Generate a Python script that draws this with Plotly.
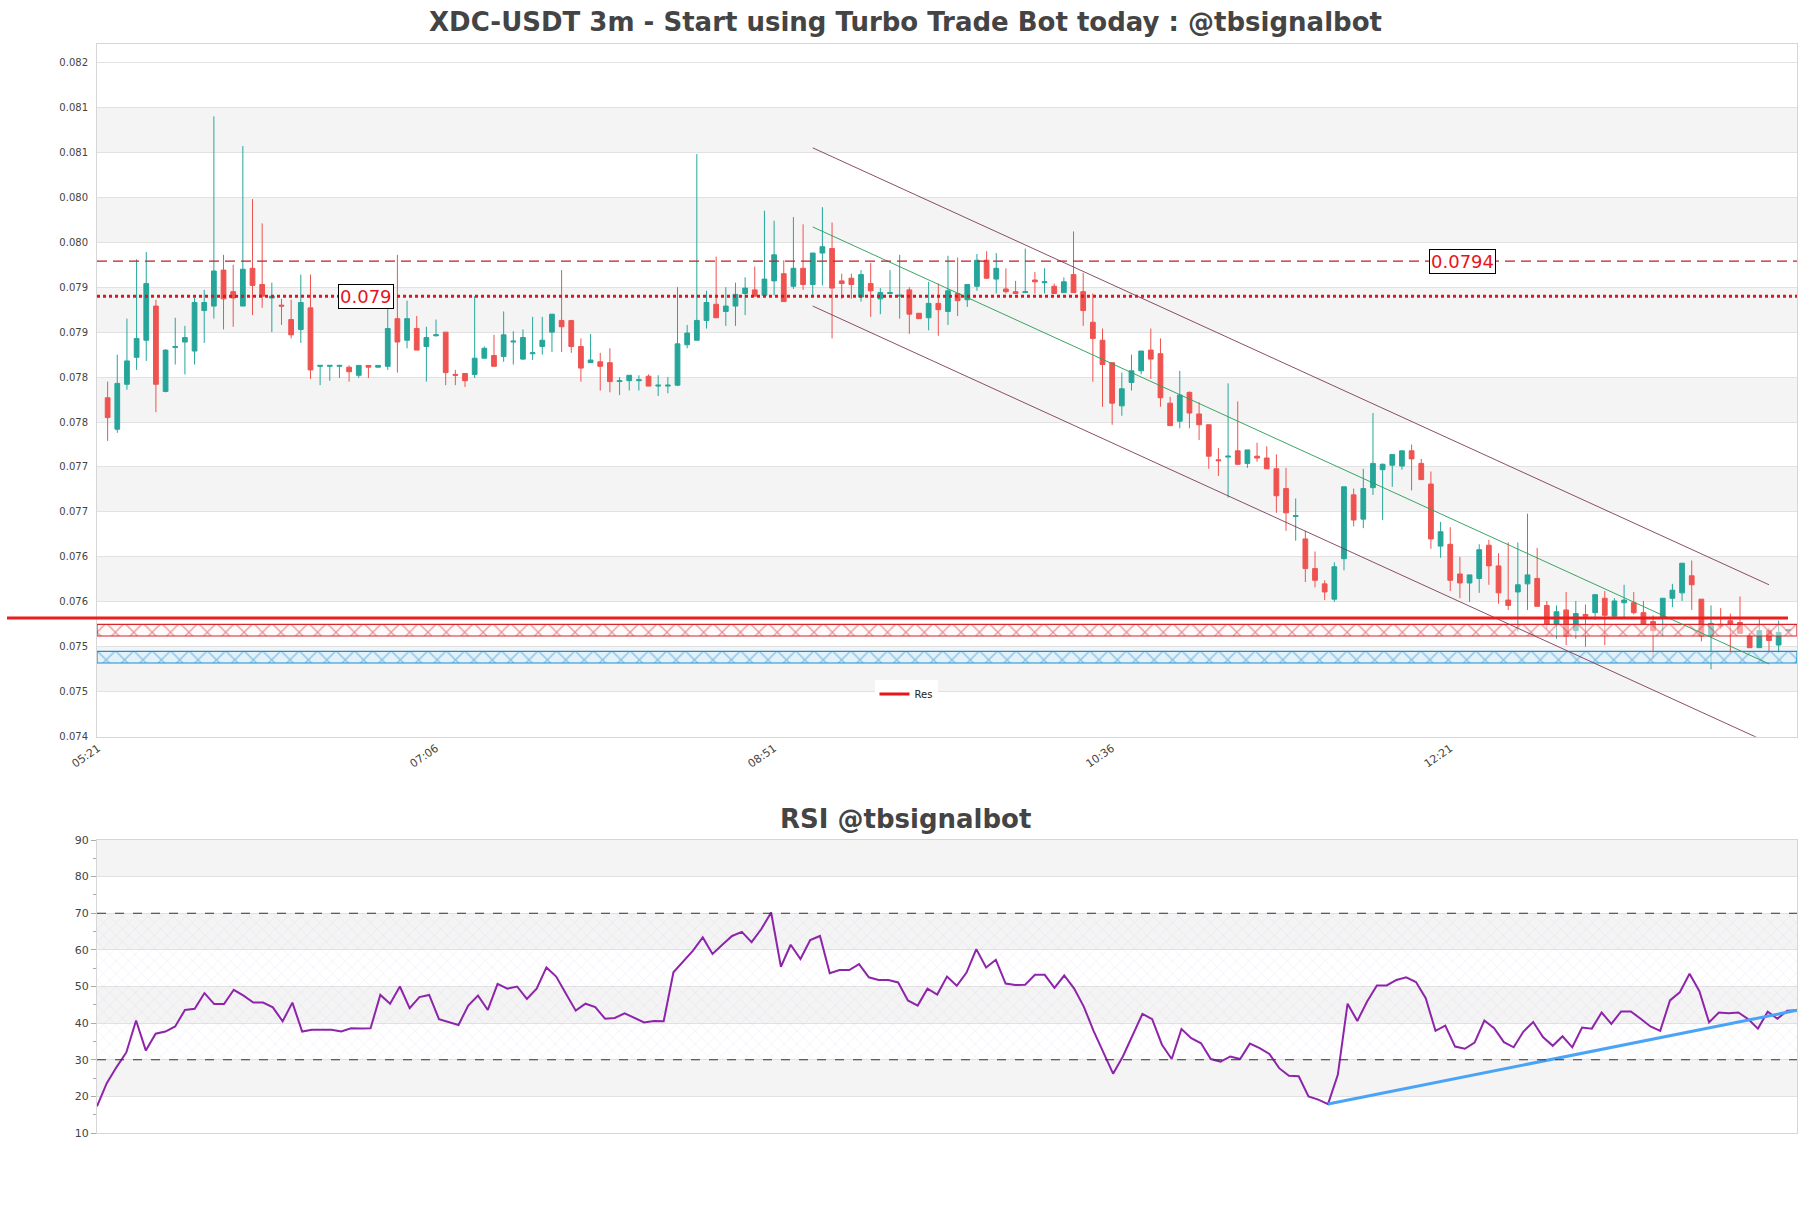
import plotly.graph_objects as go

# ---------------- data ----------------
OPEN = [0.07777, 0.07742, 0.07792, 0.07822, 0.07841, 0.07879, 0.07784, 0.07833, 0.07839, 0.07829,
        0.07874, 0.07879, 0.07919, 0.07895, 0.07879, 0.07921, 0.07903, 0.07888, 0.07880, 0.07864,
        0.07853, 0.07877, 0.07812, 0.07812, 0.07812, 0.07811, 0.07802, 0.07813, 0.07811, 0.07812,
        0.07865, 0.07841, 0.07854, 0.07834, 0.07846, 0.07850, 0.07803, 0.07804, 0.07803, 0.07821,
        0.07824, 0.07823, 0.07839, 0.07820, 0.07826, 0.07834, 0.07850, 0.07863, 0.07863, 0.07834,
        0.07816, 0.07817, 0.07816, 0.07795, 0.07796, 0.07796, 0.07801, 0.07790, 0.07790, 0.07791,
        0.07836, 0.07841, 0.07863, 0.07881, 0.07873, 0.07879, 0.07893, 0.07897, 0.07891, 0.07907,
        0.07915, 0.07901, 0.07921, 0.07903, 0.07938, 0.07943, 0.07907, 0.07910, 0.07889, 0.07904,
        0.07887, 0.07893, 0.07890, 0.07897, 0.07871, 0.07866, 0.07882, 0.07873, 0.07893, 0.07886,
        0.07901, 0.07930, 0.07909, 0.07898, 0.07895, 0.07894, 0.07908, 0.07905, 0.07901, 0.07894,
        0.07914, 0.07895, 0.07861, 0.07841, 0.07816, 0.07768, 0.07794, 0.07807, 0.07830, 0.07826,
        0.07771, 0.07751, 0.07783, 0.07759, 0.07747, 0.07708, 0.07711, 0.07718, 0.07704, 0.07712,
        0.07710, 0.07698, 0.07676, 0.07645, 0.07620, 0.07587, 0.07570, 0.07553, 0.07598, 0.07669,
        0.07642, 0.07677, 0.07697, 0.07702, 0.07701, 0.07718, 0.07704, 0.07681, 0.07612, 0.07614,
        0.07581, 0.07571, 0.07576, 0.07613, 0.07590, 0.07552, 0.07561, 0.07570, 0.07576, 0.07546,
        0.07525, 0.07541, 0.07518, 0.07536, 0.07538, 0.07554, 0.07534, 0.07549, 0.07549, 0.07538,
        0.07528, 0.07533, 0.07554, 0.07560, 0.07579, 0.07553, 0.07512, 0.07525, 0.07529, 0.07527,
        0.07512, 0.07499, 0.07518, 0.07502, 0.07518]
HIGH = [0.07795, 0.07825, 0.07865, 0.07931, 0.07939, 0.07886, 0.07831, 0.07866, 0.07857, 0.07888,
        0.07897, 0.08090, 0.07936, 0.07925, 0.08057, 0.07998, 0.07971, 0.07905, 0.07887, 0.07886,
        0.07914, 0.07914, 0.07813, 0.07813, 0.07813, 0.07813, 0.07813, 0.07813, 0.07813, 0.07882,
        0.07936, 0.07885, 0.07868, 0.07856, 0.07864, 0.07850, 0.07808, 0.07804, 0.07890, 0.07834,
        0.07847, 0.07873, 0.07851, 0.07853, 0.07867, 0.07867, 0.07870, 0.07919, 0.07863, 0.07843,
        0.07848, 0.07827, 0.07832, 0.07800, 0.07802, 0.07802, 0.07803, 0.07802, 0.07800, 0.07900,
        0.07858, 0.08048, 0.07896, 0.07934, 0.07900, 0.07905, 0.07911, 0.07923, 0.07985, 0.07974,
        0.07930, 0.07978, 0.07970, 0.07938, 0.07989, 0.07972, 0.07915, 0.07915, 0.07919, 0.07927,
        0.07899, 0.07919, 0.07936, 0.07900, 0.07871, 0.07906, 0.07904, 0.07935, 0.07933, 0.07903,
        0.07937, 0.07940, 0.07938, 0.07921, 0.07907, 0.07943, 0.07917, 0.07921, 0.07904, 0.07911,
        0.07962, 0.07916, 0.07893, 0.07854, 0.07816, 0.07805, 0.07825, 0.07829, 0.07854, 0.07843,
        0.07778, 0.07807, 0.07784, 0.07772, 0.07747, 0.07721, 0.07793, 0.07773, 0.07719, 0.07727,
        0.07723, 0.07714, 0.07699, 0.07665, 0.07629, 0.07606, 0.07574, 0.07594, 0.07678, 0.07676,
        0.07698, 0.07760, 0.07704, 0.07714, 0.07718, 0.07725, 0.07709, 0.07695, 0.07639, 0.07633,
        0.07600, 0.07580, 0.07614, 0.07619, 0.07604, 0.07616, 0.07616, 0.07648, 0.07610, 0.07551,
        0.07546, 0.07561, 0.07551, 0.07547, 0.07558, 0.07562, 0.07554, 0.07569, 0.07561, 0.07551,
        0.07535, 0.07554, 0.07570, 0.07593, 0.07596, 0.07553, 0.07546, 0.07543, 0.07537, 0.07556,
        0.07515, 0.07532, 0.07521, 0.07529, 0.07520]
LOW = [0.07729, 0.07738, 0.07786, 0.07808, 0.07818, 0.07761, 0.07783, 0.07814, 0.07803, 0.07814,
       0.07838, 0.07865, 0.07853, 0.07856, 0.07879, 0.07869, 0.07877, 0.07850, 0.07858, 0.07843,
       0.07838, 0.07798, 0.07791, 0.07796, 0.07799, 0.07795, 0.07799, 0.07799, 0.07811, 0.07808,
       0.07805, 0.07832, 0.07830, 0.07795, 0.07845, 0.07791, 0.07791, 0.07789, 0.07799, 0.07821,
       0.07812, 0.07817, 0.07814, 0.07819, 0.07819, 0.07825, 0.07828, 0.07828, 0.07827, 0.07795,
       0.07816, 0.07785, 0.07783, 0.07780, 0.07785, 0.07785, 0.07790, 0.07779, 0.07782, 0.07790,
       0.07832, 0.07841, 0.07854, 0.07866, 0.07857, 0.07857, 0.07869, 0.07890, 0.07891, 0.07891,
       0.07884, 0.07898, 0.07897, 0.07891, 0.07902, 0.07843, 0.07887, 0.07887, 0.07884, 0.07867,
       0.07870, 0.07893, 0.07865, 0.07848, 0.07865, 0.07852, 0.07846, 0.07858, 0.07868, 0.07878,
       0.07896, 0.07909, 0.07893, 0.07893, 0.07893, 0.07894, 0.07893, 0.07893, 0.07893, 0.07894,
       0.07894, 0.07857, 0.07795, 0.07767, 0.07747, 0.07757, 0.07785, 0.07803, 0.07798, 0.07767,
       0.07746, 0.07743, 0.07743, 0.07730, 0.07698, 0.07690, 0.07666, 0.07702, 0.07699, 0.07706,
       0.07698, 0.07649, 0.07629, 0.07618, 0.07572, 0.07566, 0.07552, 0.07550, 0.07585, 0.07634,
       0.07632, 0.07669, 0.07641, 0.07678, 0.07697, 0.07674, 0.07686, 0.07609, 0.07599, 0.07562,
       0.07554, 0.07550, 0.07560, 0.07569, 0.07548, 0.07541, 0.07517, 0.07541, 0.07545, 0.07520,
       0.07509, 0.07502, 0.07509, 0.07500, 0.07530, 0.07502, 0.07533, 0.07532, 0.07536, 0.07524,
       0.07487, 0.07513, 0.07544, 0.07551, 0.07541, 0.07506, 0.07475, 0.07520, 0.07493, 0.07515,
       0.07499, 0.07499, 0.07493, 0.07493, 0.07517]
CLOSE = [0.07755, 0.07793, 0.07818, 0.07843, 0.07904, 0.07792, 0.07830, 0.07834, 0.07844, 0.07883,
         0.07883, 0.07918, 0.07887, 0.07888, 0.07920, 0.07902, 0.07890, 0.07890, 0.07879, 0.07847,
         0.07883, 0.07808, 0.07813, 0.07813, 0.07813, 0.07806, 0.07813, 0.07811, 0.07813, 0.07854,
         0.07839, 0.07865, 0.07830, 0.07844, 0.07847, 0.07805, 0.07802, 0.07796, 0.07821, 0.07832,
         0.07812, 0.07847, 0.07840, 0.07844, 0.07827, 0.07841, 0.07870, 0.07856, 0.07834, 0.07810,
         0.07819, 0.07812, 0.07795, 0.07796, 0.07802, 0.07797, 0.07790, 0.07791, 0.07791, 0.07837,
         0.07849, 0.07863, 0.07883, 0.07866, 0.07879, 0.07892, 0.07899, 0.07890, 0.07909, 0.07936,
         0.07884, 0.07921, 0.07903, 0.07938, 0.07945, 0.07899, 0.07904, 0.07903, 0.07914, 0.07896,
         0.07894, 0.07894, 0.07891, 0.07870, 0.07865, 0.07882, 0.07875, 0.07896, 0.07885, 0.07903,
         0.07930, 0.07910, 0.07921, 0.07895, 0.07893, 0.07895, 0.07906, 0.07906, 0.07893, 0.07906,
         0.07894, 0.07874, 0.07843, 0.07814, 0.07771, 0.07787, 0.07807, 0.07829, 0.07820, 0.07777,
         0.07746, 0.07780, 0.07760, 0.07747, 0.07712, 0.07707, 0.07712, 0.07703, 0.07719, 0.07710,
         0.07698, 0.07668, 0.07649, 0.07646, 0.07587, 0.07574, 0.07561, 0.07589, 0.07678, 0.07641,
         0.07676, 0.07704, 0.07703, 0.07714, 0.07718, 0.07709, 0.07686, 0.07620, 0.07628, 0.07574,
         0.07571, 0.07580, 0.07608, 0.07590, 0.07560, 0.07546, 0.07569, 0.07580, 0.07545, 0.07525,
         0.07539, 0.07512, 0.07537, 0.07534, 0.07558, 0.07535, 0.07551, 0.07552, 0.07538, 0.07525,
         0.07518, 0.07554, 0.07563, 0.07593, 0.07569, 0.07512, 0.07526, 0.07523, 0.07525, 0.07515,
         0.07499, 0.07518, 0.07507, 0.07516, 0.07519]
RSI = [17.3, 23.6, 28.0, 32.0, 40.7, 32.5, 37.1, 37.7, 39.1, 43.6,
       43.9, 48.2, 45.2, 45.2, 49.1, 47.5, 45.6, 45.6, 44.3, 40.5,
       45.6, 37.7, 38.2, 38.2, 38.2, 37.7, 38.6, 38.5, 38.6, 47.7,
       45.3, 50.0, 44.1, 47.1, 47.7, 41.1, 40.3, 39.5, 44.8, 47.5,
       43.6, 50.7, 49.4, 50.0, 46.6, 49.4, 55.2, 52.7, 48.0, 43.4,
       45.3, 44.4, 41.2, 41.4, 42.7, 41.5, 40.2, 40.6, 40.5, 53.9,
       56.8, 59.8, 63.4, 58.9, 61.4, 63.8, 64.9, 62.1, 65.7, 70.2,
       55.4, 61.4, 57.5, 62.7, 63.8, 53.6, 54.5, 54.5, 56.1, 52.5,
       51.8, 51.8, 51.1, 46.2, 44.8, 49.4, 47.8, 52.7, 50.2, 53.8,
       60.2, 55.2, 57.3, 50.8, 50.4, 50.5, 53.2, 53.2, 49.6, 53.0,
       49.5, 44.5, 37.9, 32.2, 26.2, 30.9, 36.6, 42.5, 41.1, 34.1,
       30.2, 38.4, 35.9, 34.5, 30.2, 29.5, 30.9, 30.2, 34.4, 33.2,
       31.6, 27.7, 25.6, 25.5, 20.0, 19.1, 17.9, 25.9, 45.3, 40.6,
       45.9, 50.3, 50.3, 51.8, 52.5, 51.2, 46.8, 37.9, 39.3, 33.6,
       33.0, 34.7, 40.7, 38.6, 34.8, 33.4, 37.7, 40.3, 36.2, 33.8,
       36.4, 33.4, 38.8, 38.5, 42.9, 39.8, 43.2, 43.2, 41.2, 39.1,
       37.9, 46.2, 48.4, 53.5, 48.8, 40.2, 42.9, 42.7, 42.9, 41.1,
       38.5, 43.1, 41.2, 43.4, 43.5]

X_TICK_POS = [-1, 34, 69, 104, 139]
X_TICK_TEXT = ["05:21", "07:06", "08:51", "10:36", "12:21"]
PRICE_TICKS = [0.0740, 0.0745, 0.0750, 0.0755, 0.0760, 0.0765, 0.0770, 0.0775,
               0.0780, 0.0785, 0.0790, 0.0795, 0.0800, 0.0805, 0.0810, 0.0815]
PRICE_TICK_TEXT = ["0.074", "0.075", "0.075", "0.076", "0.076", "0.077", "0.077", "0.078",
                   "0.078", "0.079", "0.079", "0.080", "0.080", "0.081", "0.081", "0.082"]
RSI_TICKS = [10, 20, 30, 40, 50, 60, 70, 80, 90]

RES_LEVEL = 0.07532
DASHED_LEVEL = 0.07929
DASHED_LABEL = "0.0794"
DOTTED_LEVEL = 0.07890
DOTTED_LABEL = "0.079"
RED_ZONE = [0.07512, 0.07525]
BLUE_ZONE = [0.07482, 0.07495]
CHANNEL_X = [73, 172]
CHANNEL_UPPER = [0.08055, 0.07569]
CHANNEL_MID = [0.07967, 0.07481]
CHANNEL_LOWER = [0.07879, 0.07393]
RSI_TREND_X = [126, 174]

# ---------------- layout constants ----------------
W, H = 1811, 1208
ML, MR, MT, MB = 97, 14, 44, 75
PLOT_H = H - MT - MB
def py(y_px):
    return (H - MB - y_px) / PLOT_H

PRICE_DOM = [py(736.7), 1.0]
RSI_DOM = [0.0, py(840)]
X_RANGE = [-1.1, 174.9]
N = len(OPEN)
XS = list(range(N))
FONT = "DejaVu Sans"
TXT = "#444444"

fig = go.Figure()

# price zones (hatched)
def zone(lo, hi, color, bg):
    return go.Scatter(
        x=[X_RANGE[0], X_RANGE[1], X_RANGE[1], X_RANGE[0], X_RANGE[0]],
        y=[lo, lo, hi, hi, lo], mode="lines", fill="toself",
        fillcolor=bg, line=dict(color=color, width=1.2),
        fillpattern=dict(shape="x", fgcolor=color, bgcolor=bg, size=13,
                         solidity=0.18, fillmode="overlay"),
        hoverinfo="skip", showlegend=False, xaxis="x", yaxis="y")

fig.add_trace(zone(RED_ZONE[0], RED_ZONE[1], "#d8232a", "rgba(255,245,245,0.5)"))
fig.add_trace(zone(BLUE_ZONE[0], BLUE_ZONE[1], "#1b8fd2", "rgba(215,238,252,0.6)"))

fig.add_trace(go.Candlestick(
    x=XS, open=OPEN, high=HIGH, low=LOW, close=CLOSE,
    increasing=dict(line=dict(color="#26a69a", width=1), fillcolor="#26a69a"),
    decreasing=dict(line=dict(color="#ef5350", width=1), fillcolor="#ef5350"),
    whiskerwidth=0, showlegend=False, xaxis="x", yaxis="y"))

# channel lines
for ys, col in [(CHANNEL_UPPER, "rgba(125,60,85,0.9)"), (CHANNEL_LOWER, "rgba(125,60,85,0.9)"),
                (CHANNEL_MID, "rgba(46,160,90,0.95)")]:
    fig.add_trace(go.Scatter(x=CHANNEL_X, y=ys, mode="lines", line=dict(color=col, width=1),
                             hoverinfo="skip", showlegend=False, xaxis="x", yaxis="y"))

# legend entry for Res
fig.add_trace(go.Scatter(x=[None], y=[None], mode="lines", name="Res",
                         line=dict(color="#e8141b", width=3), xaxis="x", yaxis="y"))

# RSI hatch 30-70
fig.add_trace(go.Scatter(
    x=[0, N - 1, N - 1, 0, 0], y=[30, 30, 70, 70, 30], mode="lines", fill="toself",
    fillcolor="rgba(0,0,0,0)", line=dict(width=0),
    fillpattern=dict(shape="x", fgcolor="rgba(175,145,200,0.6)", bgcolor="rgba(0,0,0,0)",
                     size=9, solidity=0.08, fillmode="overlay"),
    hoverinfo="skip", showlegend=False, xaxis="x2", yaxis="y2"))

fig.add_trace(go.Scatter(x=XS, y=RSI, mode="lines", line=dict(color="#8e24aa", width=2),
                         showlegend=False, xaxis="x2", yaxis="y2"))
fig.add_trace(go.Scatter(x=RSI_TREND_X, y=[RSI[RSI_TREND_X[0]], RSI[RSI_TREND_X[1]]], mode="lines",
                         line=dict(color="#4aa3f5", width=3), showlegend=False,
                         xaxis="x2", yaxis="y2"))

shapes = []
# price bands
for i in range(len(PRICE_TICKS) - 1):
    lo, hi = PRICE_TICKS[i], PRICE_TICKS[i + 1]
    if i % 2 == 1:
        shapes.append(dict(type="rect", xref="x domain", yref="y", x0=0, x1=1, y0=lo, y1=hi,
                           fillcolor="#f4f4f4", line=dict(width=0), layer="below"))
# rsi bands
for lo in [20, 40, 60, 80]:
    shapes.append(dict(type="rect", xref="x2 domain", yref="y2", x0=0, x1=1, y0=lo, y1=lo + 10,
                       fillcolor="#f4f4f4", line=dict(width=0), layer="below"))
# levels
shapes.append(dict(type="line", xref="x domain", yref="y", x0=0, x1=1,
                   y0=DASHED_LEVEL, y1=DASHED_LEVEL,
                   line=dict(color="#bf1f25", width=1.3, dash="10px,6px")))
shapes.append(dict(type="line", xref="x domain", yref="y", x0=0, x1=1,
                   y0=DOTTED_LEVEL, y1=DOTTED_LEVEL,
                   line=dict(color="#e0141b", width=3, dash="dot")))
shapes.append(dict(type="line", xref="paper", yref="y", x0=(7 - ML) / (W - ML - MR),
                   x1=(1788 - ML) / (W - ML - MR), y0=RES_LEVEL, y1=RES_LEVEL,
                   line=dict(color="#ee1c1c", width=3)))
for lv in [30, 70]:
    shapes.append(dict(type="line", xref="x2 domain", yref="y2", x0=0, x1=1, y0=lv, y1=lv,
                       line=dict(color="#333333", width=1.2, dash="dash")))

annotations = [
    dict(text=DOTTED_LABEL, x=26.8, y=DOTTED_LEVEL, xref="x", yref="y", showarrow=False,
         font=dict(family=FONT, size=18, color="#e8141b"), bgcolor="white",
         bordercolor="black", borderwidth=1, borderpad=1),
    dict(text=DASHED_LABEL, x=140.3, y=DASHED_LEVEL, xref="x", yref="y", showarrow=False,
         font=dict(family=FONT, size=18, color="#e8141b"), bgcolor="white",
         bordercolor="black", borderwidth=1, borderpad=1),
    dict(text="<b>RSI @tbsignalbot</b>", x=(W / 2 - ML) / (W - ML - MR), xref="paper",
         xanchor="center", y=py(819), yref="paper", yanchor="middle", showarrow=False,
         font=dict(family=FONT, size=26, color=TXT)),
]

fig.update_layout(
    width=W, height=H, margin=dict(l=ML, r=MR, t=MT, b=MB),
    paper_bgcolor="white", plot_bgcolor="white",
    font=dict(family=FONT, color=TXT),
    title=dict(text="<b>XDC-USDT 3m - Start using Turbo Trade Bot today : @tbsignalbot</b>",
               x=0.5, xref="container", xanchor="center",
               y=1 - 22 / H, yref="container", yanchor="middle",
               font=dict(family=FONT, size=26, color=TXT)),
    xaxis=dict(domain=[0, 1], anchor="y", range=X_RANGE, rangeslider=dict(visible=False),
               tickvals=X_TICK_POS, ticktext=X_TICK_TEXT, tickangle=-35,
               tickfont=dict(size=11, color=TXT), showgrid=False, zeroline=False,
               showline=True, linecolor="#d6d6d6", mirror=True, ticks=""),
    yaxis=dict(domain=PRICE_DOM, anchor="x", range=[0.0740, 0.081705],
               tickvals=PRICE_TICKS, ticktext=PRICE_TICK_TEXT,
               tickfont=dict(size=10, color=TXT), showgrid=True, gridcolor="#e2e2e2",
               zeroline=False, showline=True, linecolor="#d6d6d6", mirror=True,
               ticks="", ticklabelstandoff=6),
    xaxis2=dict(domain=[0, 1], anchor="y2", range=[0, N - 1], showticklabels=False,
                showgrid=False, zeroline=False, showline=True, linecolor="#d6d6d6",
                mirror=True, ticks=""),
    yaxis2=dict(domain=RSI_DOM, anchor="x2", range=[10, 90], tickvals=RSI_TICKS,
                tickfont=dict(size=11, color=TXT), showgrid=True, gridcolor="#e2e2e2",
                zeroline=False, showline=True, linecolor="#d6d6d6", mirror=True,
                ticks="outside", ticklen=5, tickcolor="#aaaaaa",
                minor=dict(dtick=5, ticks="outside", ticklen=3, tickcolor="#aaaaaa")),
    shapes=shapes, annotations=annotations,
    showlegend=True,
    legend=dict(x=(906 - ML) / (W - ML - MR), xanchor="center", y=py(694), yanchor="middle",
                bgcolor="white", borderwidth=0, font=dict(size=10, color="#222222"),
                itemwidth=30),
)

fig.write_html("out.html")
